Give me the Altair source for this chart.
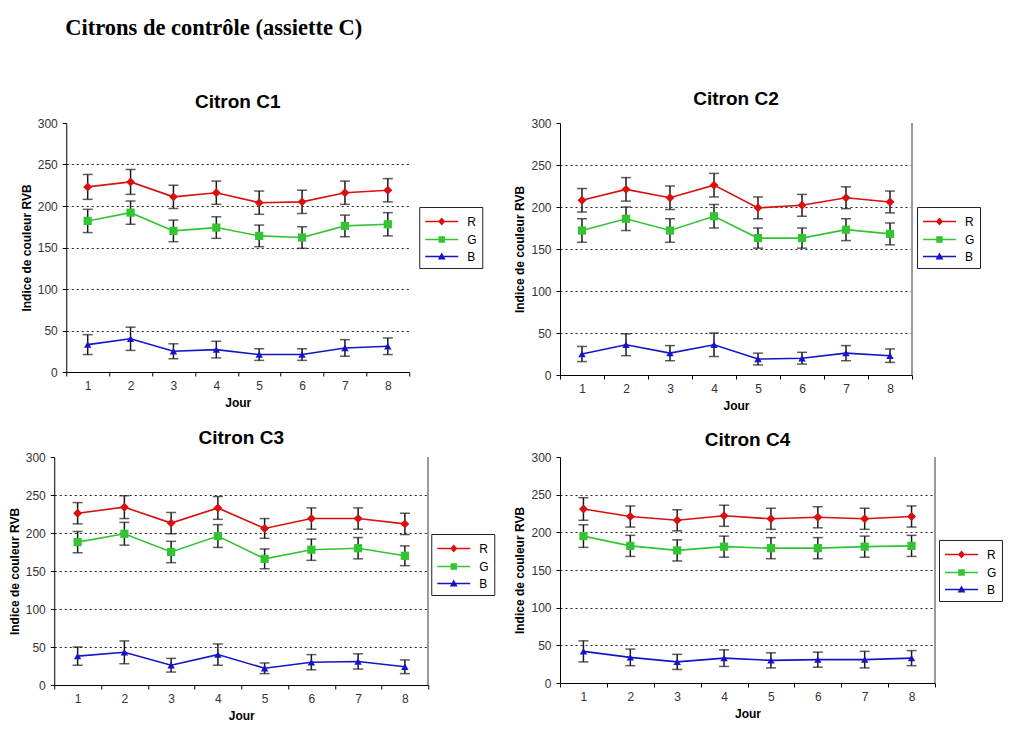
import altair as alt
import pandas as pd

# ---------------- data ----------------
DAYS = [1, 2, 3, 4, 5, 6, 7, 8]
SERIES = ["R", "G", "B"]
COLORS = ["#d81010", "#33c433", "#1414c8"]
SHAPES = ["diamond", "square", "triangle-up"]
Y_TICKS = [0, 50, 100, 150, 200, 250, 300]

MAIN_TITLE = "Citrons de contrôle (assiette C)"
Y_TITLE = "Indice de couleur RVB"
X_TITLE = "Jour"

C1_R = [223, 229, 211, 216, 204, 205, 216, 219]
C1_G = [182, 192, 170, 174, 164, 162, 176, 178]
C1_B = [33, 40, 25, 27, 21, 21, 29, 31]
C1_R_ERR = [15, 15, 14, 14, 14, 14, 14, 14]
C1_G_ERR = [14, 14, 13, 13, 13, 13, 13, 14]
C1_B_ERR = [12, 14, 9, 10, 7, 7, 10, 10]

C2_R = [208, 221, 211, 226, 199, 202, 211, 206]
C2_G = [172, 186, 172, 189, 163, 163, 173, 168]
C2_B = [25, 36, 26, 36, 19, 20, 26, 23]
C2_R_ERR = [14, 14, 14, 14, 13, 13, 13, 13]
C2_G_ERR = [14, 14, 14, 14, 12, 12, 13, 13]
C2_B_ERR = [9, 13, 9, 14, 7, 7, 9, 8]

C3_R = [226, 234, 213, 233, 206, 219, 219, 212]
C3_G = [188, 199, 175, 196, 166, 178, 180, 170]
C3_B = [38, 43, 26, 40, 22, 30, 31, 24]
C3_R_ERR = [14, 15, 14, 15, 13, 14, 14, 14]
C3_G_ERR = [14, 15, 14, 15, 13, 14, 14, 13]
C3_B_ERR = [12, 15, 9, 14, 7, 10, 10, 9]

C4_R = [231, 221, 216, 222, 218, 220, 218, 221]
C4_G = [195, 182, 176, 181, 179, 179, 181, 182]
C4_B = [42, 34, 28, 33, 30, 31, 31, 33]
C4_R_ERR = [15, 14, 14, 14, 14, 14, 14, 14]
C4_G_ERR = [15, 14, 14, 14, 14, 14, 14, 14]
C4_B_ERR = [14, 11, 10, 11, 10, 10, 11, 10]

# ---------------- style ----------------
FONT = "Liberation Sans"
EB_COLOR = "#1a1a1a"
MARK_SIZES = [80, 55, 70]
# legend glyphs: a thin bar (the line) with the marker in the middle
LEGEND_PATHS = [
    "M-1,-0.09H2.88V0.09H-1ZM0.94,-0.48L1.36,0L0.94,0.48L0.52,0Z",
    "M-1,-0.09H2.88V0.09H-1ZM0.56,-0.38H1.32V0.38H0.56Z",
    "M-1,-0.09H2.88V0.09H-1ZM0.94,-0.48L1.4,0.36H0.48Z",
]


def panel(name, R, G, B, RE, GE, BE, w, h, lx, ly, border, toff, spacers=()):
    rows = []
    for s, vals, errs in zip(SERIES, [R, G, B], [RE, GE, BE]):
        for d, v, e in zip(DAYS, vals, errs):
            rows.append({"jour": d, "serie": s, "val": v, "lo": v - e, "hi": v + e})
    df = pd.DataFrame(rows)
    base = alt.Chart(df)

    x_axis = alt.Axis(
        title=X_TITLE, labelAngle=0, tickBand="extent", grid=False,
        domainColor="black", tickColor="black", tickSize=4,
        labelFont=FONT, labelFontSize=12, labelColor="#333", labelPadding=4,
        titleFont=FONT, titleFontSize=12, titleFontWeight="bold",
        titleColor="black", titlePadding=6,
    )
    y_axis = alt.Axis(
        title=Y_TITLE, values=Y_TICKS, grid=True, gridDash=[2, 3],
        gridColor="#222",
        gridOpacity={"condition": {"test": "datum.value >= 300 || datum.value <= 0",
                                   "value": 0}, "value": 1},
        domainColor="black", tickColor="black", tickSize=4,
        labelFont=FONT, labelFontSize=12, labelColor="#333", labelPadding=5,
        titleFont=FONT, titleFontSize=12, titleFontWeight="bold",
        titleColor="black", titlePadding=4,
    )
    xs = alt.Scale(type="band", paddingInner=0, paddingOuter=0)
    ys = alt.Scale(domain=[0, 300], nice=False)
    X = alt.X("jour:O", scale=xs, axis=x_axis, bandPosition=0.5)
    Yv = alt.Y("val:Q", scale=ys, axis=y_axis)

    color_nl = alt.Color("serie:N", scale=alt.Scale(domain=SERIES, range=COLORS), legend=None)
    shape_nl = alt.Shape("serie:N", scale=alt.Scale(domain=SERIES, range=SHAPES), legend=None)
    size_nl = alt.Size("serie:N", scale=alt.Scale(domain=SERIES, range=MARK_SIZES), legend=None)

    leg = alt.Legend(
        title=None, orient="none", legendX=lx, legendY=ly,
        strokeColor="#222", padding=5, labelFont=FONT, labelFontSize=12,
        labelColor="black", symbolSize=289, labelOffset=24, rowPadding=1,
        symbolOpacity=1,
    )

    rule = base.mark_rule(color=EB_COLOR, strokeWidth=1.5).encode(
        x=X, y=alt.Y("lo:Q", scale=ys, axis=y_axis), y2="hi:Q")
    cap_lo = base.mark_tick(color=EB_COLOR, thickness=1.5, size=10).encode(
        x=X, y=alt.Y("lo:Q", scale=ys, axis=y_axis))
    cap_hi = base.mark_tick(color=EB_COLOR, thickness=1.5, size=10).encode(
        x=X, y=alt.Y("hi:Q", scale=ys, axis=y_axis))
    line = base.mark_line(strokeWidth=1.6).encode(x=X, y=Yv, color=color_nl)
    pts = base.mark_point(filled=True, opacity=1).encode(
        x=X, y=Yv, color=color_nl, shape=shape_nl, size=size_nl)
    # legend-only layer: no rows, explicit domains
    legend_layer = base.transform_filter("false").mark_point(
        filled=True, opacity=1).encode(
        x=X, y=Yv,
        color=alt.Color("serie:N", scale=alt.Scale(domain=SERIES, range=COLORS), legend=leg),
        shape=alt.Shape("serie:N", scale=alt.Scale(domain=SERIES, range=LEGEND_PATHS), legend=leg),
    )

    layers = [rule, cap_lo, cap_hi, line, pts, legend_layer]
    if border:
        layers.append(base.mark_rule(color="#9a9a9a", strokeWidth=1.5).encode(
            x=alt.value(w), y=alt.value(0), y2=alt.value(h)))
    for sx in spacers:
        layers.append(base.mark_rule(color="white", strokeWidth=1).encode(
            x=alt.value(sx), y=alt.value(0), y2=alt.value(1)))

    return alt.layer(*layers).resolve_scale(
        color="independent", shape="independent", size="independent"
    ).properties(
        width=w, height=h,
        title=alt.TitleParams(name, font=FONT, fontSize=19, fontWeight="bold",
                              color="black", offset=toff, anchor="middle"),
    )


c1 = panel("Citron C1", C1_R, C1_G, C1_B, C1_R_ERR, C1_G_ERR, C1_B_ERR,
           343, 249, 353, 84, False, 5)
c2 = panel("Citron C2", C2_R, C2_G, C2_B, C2_R_ERR, C2_G_ERR, C2_B_ERR,
           352, 252, 357, 84, True, 8, spacers=(452,))
c3 = panel("Citron C3", C3_R, C3_G, C3_B, C3_R_ERR, C3_G_ERR, C3_B_ERR,
           374, 228, 377, 77, True, 3, spacers=(438,))
c4 = panel("Citron C4", C4_R, C4_G, C4_B, C4_R_ERR, C4_G_ERR, C4_B_ERR,
           375, 226, 379, 83, True, 1)

chart = alt.concat(
    c1, c2, c3, c4, columns=2,
    center={"column": True, "row": False},
    spacing={"row": 18, "column": 18},
).properties(
    title=alt.TitleParams(MAIN_TITLE, font="Liberation Serif", fontSize=22.5,
                          fontWeight="bold", color="black", anchor="start",
                          dx=57, offset=51),
    padding={"left": 0, "top": 8, "right": 0, "bottom": 0},
).configure_view(stroke=None)

chart.save("out.html", embed_options={"renderer": "svg", "actions": False})
